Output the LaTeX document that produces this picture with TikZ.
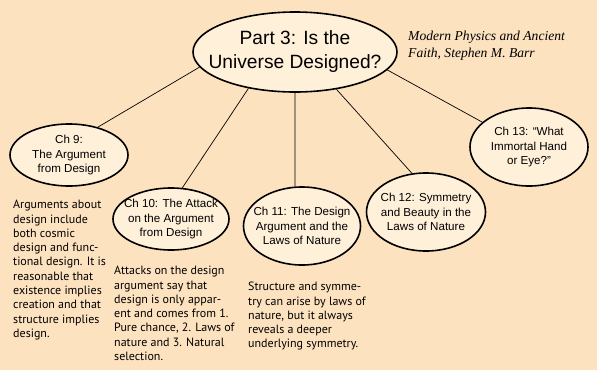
\documentclass[tikz,border=0pt]{standalone}
\usepackage{fontspec}
\setmainfont{Liberation Sans}
\newfontfamily\citefont{Liberation Serif}
\newfontfamily\bodyfont{PT Sans}
\usetikzlibrary{shapes.geometric}
\definecolor{bgpeach}{HTML}{FDE2C0}
\definecolor{ovalfill}{HTML}{FFF0DA}
\tikzset{
  oval/.style={ellipse, draw=black, line width=1.6pt, fill=ovalfill, inner sep=0pt},
  ovaltext/.style={inner sep=0pt, align=center, font=\fontsize{11.6}{14.5}\selectfont},
  maintext/.style={inner sep=0pt, align=center, font=\fontsize{19.2}{24}\selectfont},
  body/.style={anchor=north west, inner sep=0pt, align=left, font=\bodyfont\fontsize{12}{14.3}\selectfont},
  link/.style={draw=black, line width=0.7pt}
}
\begin{document}
\begin{tikzpicture}[x=1pt, y=-1pt]
\fill[bgpeach] (0,0) rectangle (597,370);
\useasboundingbox (0,0) rectangle (597,370);

\node[oval, minimum width=204pt, minimum height=80pt] (main) at (295,52) {};
\node[maintext] (mainlbl) at (main.center) {Part 3: Is the\\Universe Designed?};
\node[anchor=base west, inner sep=0pt, align=left, font=\citefont\itshape\fontsize{13.6}{17}\selectfont] (cite) at (408,57) {Modern Physics and Ancient\\Faith, Stephen M. Barr};

\node[oval, minimum width=118pt, minimum height=62pt] (ch9) at (69,155) {};
\node[ovaltext] (l9) at (ch9.center) {Ch 9:\\The Argument\\from Design};
\node[oval, minimum width=116pt, minimum height=62pt] (ch10) at (171,219) {};
\node[ovaltext] (l10) at (ch10.center) {Ch 10: The Attack\\on the Argument\\from Design};
\node[oval, minimum width=117pt, minimum height=78pt] (ch11) at (302,226) {};
\node[ovaltext] (l11) at (ch11.center) {Ch 11: The Design\\Argument and the\\Laws of Nature};
\node[oval, minimum width=119pt, minimum height=78pt] (ch12) at (426,212) {};
\node[ovaltext] (l12) at (ch12.center) {Ch 12: Symmetry\\and Beauty in the\\Laws of Nature};
\node[oval, minimum width=118pt, minimum height=78pt] (ch13) at (529,147) {};
\node[ovaltext] (l13) at (ch13.center) {Ch 13: “What\\Immortal Hand\\or Eye?”};

\draw[link] (main.189) -- (ch9.44);
\draw[link] (main.218) -- (ch10.70);
\draw[link] (main.270) -- (ch11.100);
\draw[link] (main.318) -- (ch12.110);
\draw[link] (main.349) -- (ch13.152);

\node[body] (t9) at (13,200) {Arguments about\\design include\\both cosmic\\design and func-\\tional design. It is\\reasonable that\\existence implies\\creation and that\\structure implies\\design.};
\node[body] (t10) at (114,266) {Attacks on the design\\argument say that\\design is only appar-\\ent and comes from 1.\\Pure chance, 2. Laws of\\nature and 3. Natural\\selection.};
\node[body] (t11) at (248,282) {Structure and symme-\\try can arise by laws of\\nature, but it always\\reveals a deeper\\underlying symmetry.};
\end{tikzpicture}
\end{document}
